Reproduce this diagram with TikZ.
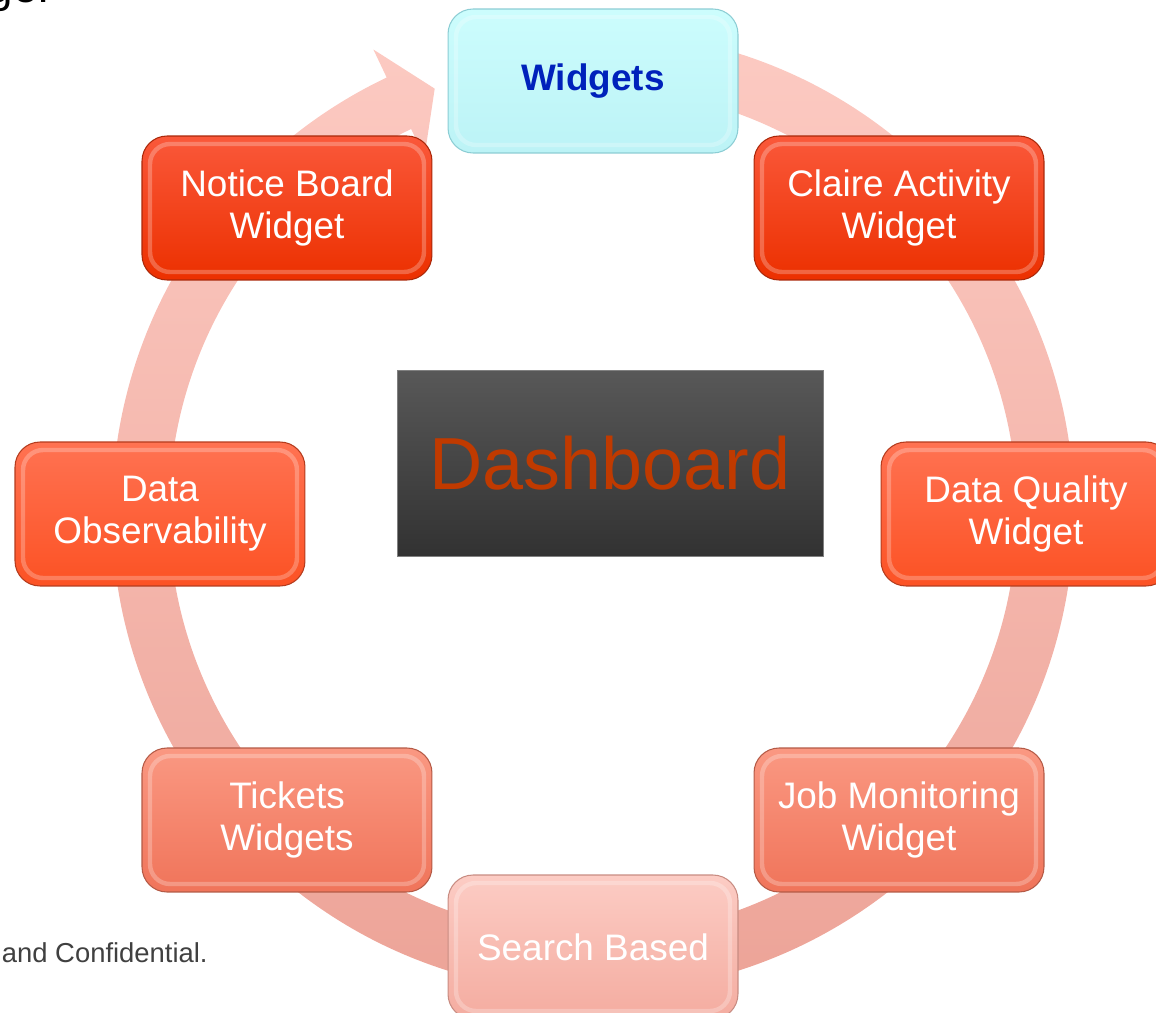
\documentclass[tikz,border=0pt]{standalone}
\usepackage{fontspec}
\setmainfont{Liberation Sans}

\definecolor{ringtop}{RGB}{252,202,194}
\definecolor{ringbot}{RGB}{236,162,150}
\definecolor{widgetblue}{RGB}{0,34,187}
\definecolor{dashtext}{RGB}{192,58,0}

\tikzset{
    widget/.style={rectangle,rounded corners=0.5cm,minimum width=5.8cm,minimum height=2.88cm,
        inner sep=0pt,align=center,text=white,line width=0.6pt,
        font=\fontsize{21}{24}\selectfont,
        path picture={\draw[white,opacity=0.25,line width=2.5pt,rounded corners=0.4cm]
            ([shift={(0.16cm,0.16cm)}]path picture bounding box.south west) rectangle
            ([shift={(-0.16cm,-0.16cm)}]path picture bounding box.north east);}},
    hotbox/.style={widget,draw={rgb,255:red,170;green,40;blue,10},
        top color={rgb,255:red,250;green,88;blue,58},middle color={rgb,255:red,255;green,58;blue,5},
        bottom color={rgb,255:red,236;green,48;blue,0}},
    warmbox/.style={widget,draw={rgb,255:red,180;green,60;blue,30},
        top color={rgb,255:red,255;green,114;blue,82},middle color={rgb,255:red,255;green,98;blue,60},
        bottom color={rgb,255:red,252;green,82;blue,36}},
    softbox/.style={widget,draw={rgb,255:red,180;green,90;blue,70},
        top color={rgb,255:red,250;green,152;blue,130},middle color={rgb,255:red,249;green,134;blue,112},
        bottom color={rgb,255:red,240;green,116;blue,90}},
    palebox/.style={widget,draw={rgb,255:red,200;green,140;blue,130},
        top color={rgb,255:red,252;green,204;blue,196},middle color={rgb,255:red,251;green,192;blue,183},
        bottom color={rgb,255:red,244;green,172;blue,160}},
    headbox/.style={widget,draw={rgb,255:red,140;green,205;blue,212},text=widgetblue,
        font=\fontsize{21}{24}\selectfont\bfseries,
        top color={rgb,255:red,204;green,253;blue,253},bottom color={rgb,255:red,188;green,243;blue,246}},
}

\begin{document}
\begin{tikzpicture}[x=0.02cm,y=0.02cm]
    \clip (-593,-500) rectangle (563,512);
    % ring
    \path[top color=ringtop,bottom color=ringbot]
        (80:481) arc[start angle=80,end angle=-244.6,radius=481]
        -- (-244.6:512) -- (-249.5:452) -- (-244.6:393) -- (-244.6:424)
        arc[start angle=-244.6,end angle=80,radius=424] -- cycle;
    % nodes
    \node (widgets) at (0,431) [headbox] {Widgets};
    \node (claire) at (306,304) [hotbox] {Claire Activity\\Widget};
    \node (quality) at (433,-2) [warmbox] {Data Quality\\Widget};
    \node (jobs) at (306,-308) [softbox] {Job Monitoring\\Widget};
    \node (search) at (0,-435) [palebox] {Search Based};
    \node (tickets) at (-306,-308) [softbox] {Tickets\\Widgets};
    \node (observe) at (-433,-2) [warmbox] {Data\\Observability};
    \node (notice) at (-306,304) [hotbox] {Notice Board\\Widget};
    \node (dash) at (17,49) [rectangle,draw={rgb,255:red,128;green,128;blue,128},
        top color={rgb,255:red,88;green,88;blue,88},bottom color={rgb,255:red,50;green,50;blue,50},
        minimum width=8.52cm,minimum height=3.72cm,text=dashtext,
        font=\fontsize{42}{44}\selectfont] {Dashboard};
    % page texts
    \node (title) at (-543,509) [anchor=base east,inner sep=0pt,font=\fontsize{25}{27}\selectfont] {ge:};
    \node (footer) at (-385,-450) [anchor=base east,inner sep=0pt,text={rgb,255:red,64;green,64;blue,64},
        font=\fontsize{15.6}{18}\selectfont] {and Confidential.};
\end{tikzpicture}
\end{document}
